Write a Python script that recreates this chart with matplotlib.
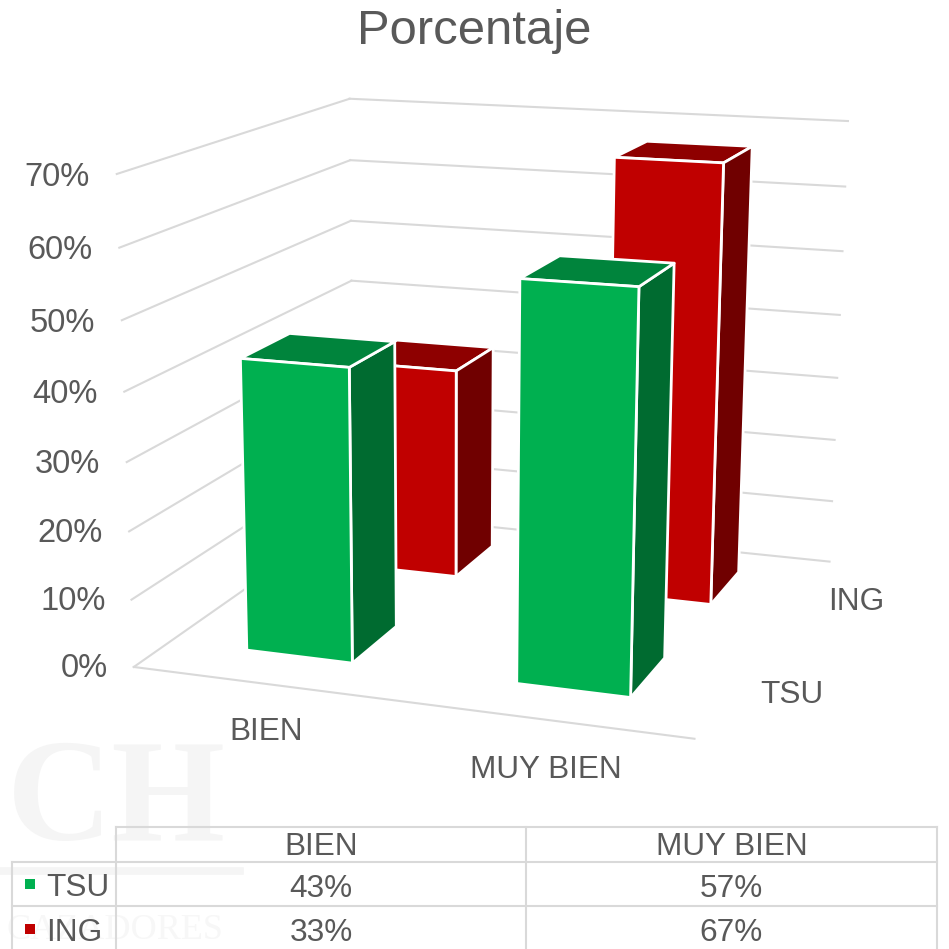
import numpy as np
import matplotlib
matplotlib.use('Agg')
import matplotlib.pyplot as plt
from mpl_toolkits.mplot3d import proj3d
from mpl_toolkits.mplot3d.art3d import Poly3DCollection

plt.rcParams['font.family'] = ['Liberation Sans', 'DejaVu Sans']

categories = ['BIEN', 'MUY BIEN']
series_names = ['TSU', 'ING']
tsu_values = [43, 57]
ing_values = [33, 67]
z_ticks = [0, 10, 20, 30, 40, 50, 60, 70]

TEXT = '#595959'
GRID = '#D9D9D9'
front_colors = ['#00B050', '#C00000']
top_colors = ['#00843C', '#8E0000']
side_colors = ['#006B30', '#700000']

# floor limits of the 3d box and bar half width, in data units
x_lo, x_hi = -0.494, 1.498
y_lo, y_hi = -0.48, 1.44
half_w = 0.2

fig = plt.figure(figsize=(9.49, 9.49), dpi=100)

# flat axes in pixels for title, table, grid and watermark
ax2 = fig.add_axes([0, 0, 1, 1])
ax2.set_xlim(0, 949)
ax2.set_ylim(949, 0)
ax2.axis('off')

# faint watermark
wm = '#F5F5F5'
ax2.text(226, 840, 'CH', family='Liberation Serif', weight='bold', fontsize=105,
         color=wm, ha='right', va='baseline', zorder=0)
ax2.text(115, 947, 'CAZADORES', family='Liberation Serif', fontsize=26,
         color='#F7F7F7', ha='center', va='bottom', zorder=0)
ax2.plot([0, 240], [871, 871], color=wm, lw=5.5, zorder=0)

ax2.text(474, 31, 'Porcentaje', fontsize=35.3, color=TEXT, ha='center', va='center')

# data table under the chart
col_x = [116, 526, 937]
row_y = [827, 862, 906, 949]
ax2.plot([col_x[0], col_x[2]], [row_y[0], row_y[0]], color=GRID, lw=1.5)
ax2.plot([12, col_x[2]], [row_y[1], row_y[1]], color=GRID, lw=1.5)
ax2.plot([12, col_x[2]], [row_y[2], row_y[2]], color=GRID, lw=1.5)
ax2.plot([12, 12], [row_y[1], row_y[3]], color=GRID, lw=1.5)
for x in col_x:
    ax2.plot([x, x], [row_y[0], row_y[3]], color=GRID, lw=1.5)
for i, cat in enumerate(categories):
    xc = (col_x[i] + col_x[i + 1]) / 2
    ax2.text(xc, 847, cat, fontsize=22.7, color=TEXT, ha='center', va='center')
    ax2.text(xc, 889, f'{tsu_values[i]}%', fontsize=22.7, color=TEXT, ha='center', va='center')
    ax2.text(xc, 933, f'{ing_values[i]}%', fontsize=22.7, color=TEXT, ha='center', va='center')
for j, name in enumerate(series_names):
    yc = [884, 929][j]
    ax2.scatter([30], [yc], s=60, marker='s', color=front_colors[j], linewidths=0)
    ax2.text(46, yc + 4, name, fontsize=22.7, color=TEXT, ha='left', va='center')

# 3d axes, camera matrix fitted to the box corners seen in the picture
ax = fig.add_axes([0, 0, 1, 1], projection='3d', computed_zorder=False)
ax.set_axis_off()
ax.patch.set_visible(False)

world = np.array([[x_lo, y_lo, 0], [x_hi, y_lo, 0], [x_lo, y_hi, 0], [x_hi, y_hi, 0],
                  [x_lo, y_lo, 70], [x_lo, y_hi, 70], [x_hi, y_hi, 70]], dtype=float)
pix = np.array([[135, 663], [695, 742], [352, 517], [830, 558],
                [115, 175], [352, 97], [847, 122]], dtype=float)
uv = ax.transData.inverted().transform(np.c_[pix[:, 0], 949 - pix[:, 1]])

A, b = [], []
for (X, Y, Z), (u, v) in zip(world, uv):
    A.append([X, Y, Z, 1, 0, 0, 0, 0, -u * X, -u * Y, -u * Z])
    A.append([0, 0, 0, 0, X, Y, Z, 1, -v * X, -v * Y, -v * Z])
    b += [u, v]
p = np.linalg.lstsq(np.array(A), np.array(b), rcond=None)[0]
M = np.array([p[:4], p[4:8], [0, 0.1, 0, 0], [p[8], p[9], p[10], 1]])
ax.get_proj = lambda: M


def to_flat(x, y, z):
    # 3d data point to the pixel axes underneath
    px, py, _ = proj3d.proj_transform(x, y, z, M)
    dx, dy = ax.transData.transform((px, py))
    return dx, 949 - dy


def grid_line(a, b):
    pa, pb = to_flat(*a), to_flat(*b)
    ax2.plot([pa[0], pb[0]], [pa[1], pb[1]], color=GRID, lw=1.5, zorder=1)


# grid on the left and back walls
for z in z_ticks:
    grid_line((x_lo, y_lo, z), (x_lo, y_hi, z))
    grid_line((x_lo, y_hi, z), (x_hi, y_hi, z))
    tx, ty = to_flat(x_lo - 0.1, y_lo, z - 0.7)
    ax2.text(tx, ty, f'{z}%', fontsize=23.5, color=TEXT, ha='right', va='center')
grid_line((x_lo, y_lo, 0), (x_hi, y_lo, 0))

# bars, back row first
for j, values in reversed(list(enumerate([tsu_values, ing_values]))):
    for i, val in enumerate(values):
        x0, x1 = i - half_w, i + half_w
        y0, y1 = j - half_w, j + half_w
        front = [(x0, y0, 0), (x1, y0, 0), (x1, y0, val), (x0, y0, val)]
        side = [(x1, y0, 0), (x1, y1, 0), (x1, y1, val), (x1, y0, val)]
        top = [(x0, y0, val), (x1, y0, val), (x1, y1, val), (x0, y1, val)]
        poly = Poly3DCollection([side, top, front],
                                facecolors=[side_colors[j], top_colors[j], front_colors[j]],
                                edgecolors='white', linewidths=2, zorder=3 - j)
        ax.add_collection3d(poly)

for i, cat in enumerate(categories):
    tx, ty = to_flat(i, y_lo, -7.2)
    ax2.text(tx, ty, cat, fontsize=22.7, color=TEXT, ha='center', va='center')
for j, name in enumerate(series_names):
    tx, ty = to_flat(x_hi + 0.2, j, 0)
    ax2.text(tx, ty, name, fontsize=22.7, color=TEXT, ha='center', va='center')

fig.savefig('out.png', dpi=100)
